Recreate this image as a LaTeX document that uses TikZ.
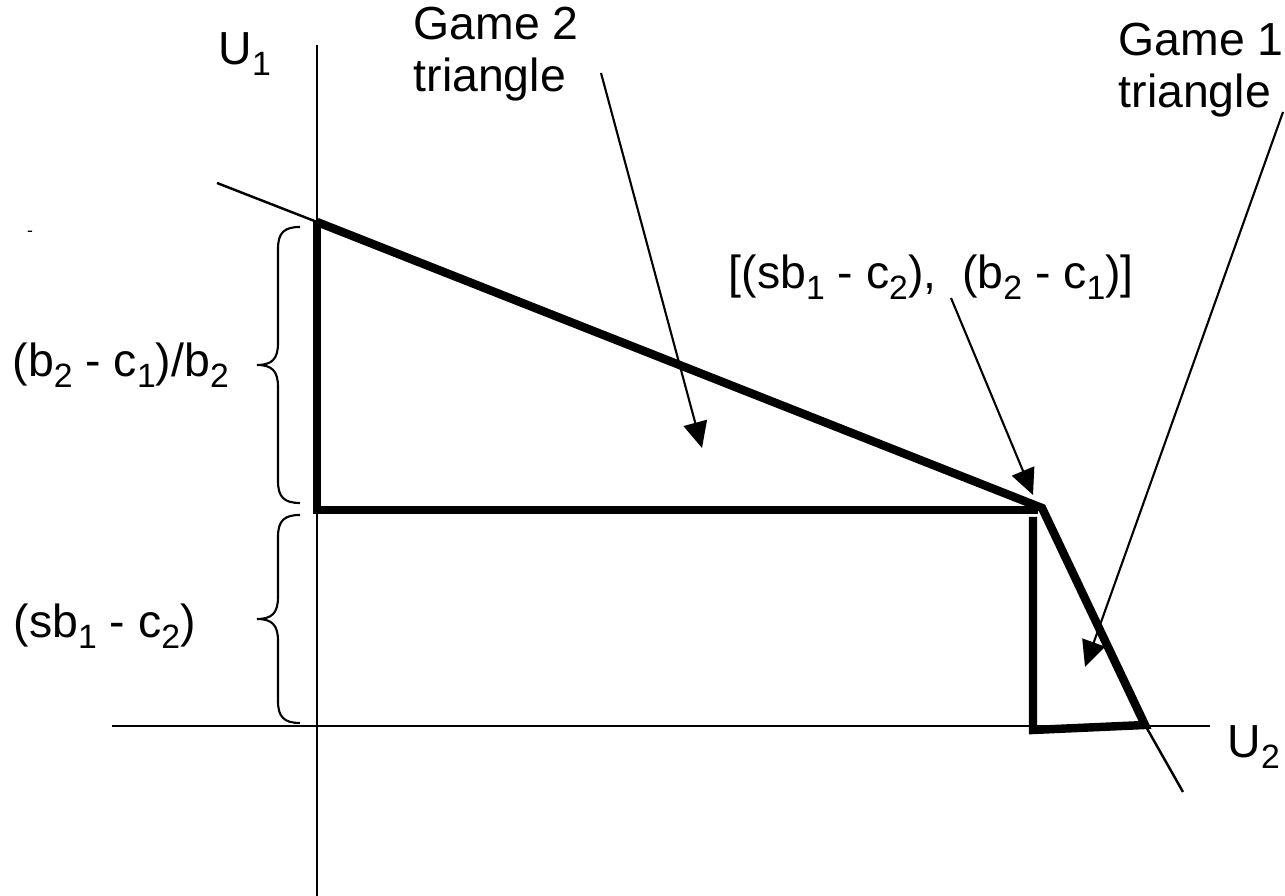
\documentclass[tikz,border=0pt]{standalone}
\usepackage{fontspec}
\setmainfont{Liberation Sans}
\usetikzlibrary{arrows.meta}

\tikzset{
  axisline/.style={line width=0.7pt},
  region/.style={line width=2.4pt,line join=miter},
  pointer/.style={->,line width=0.6pt},
  bracestroke/.style={line width=0.6pt},
  lbl/.style={inner sep=0pt,font=\fontsize{13.2}{15}\selectfont},
}
% subindice al estilo de la figura
\newcommand{\sbx}[1]{\raisebox{-0.22em}{\fontsize{9.6}{10}\selectfont #1}}
% left brace beside the U1 axis: #1 top y, #2 bottom y
\newcommand{\sidebrace}[2]{%
  \draw[bracestroke] (3.00,{#1}) .. controls (2.84,{#1}) and (2.78,{#1-0.06}) .. (2.78,{#1-0.22})
    -- (2.78,{(#1+#2)/2+0.22}) .. controls (2.78,{(#1+#2)/2+0.06}) and (2.72,{(#1+#2)/2}) .. (2.57,{(#1+#2)/2})
    .. controls (2.72,{(#1+#2)/2}) and (2.78,{(#1+#2)/2-0.06}) .. (2.78,{(#1+#2)/2-0.22})
    -- (2.78,{#2+0.22}) .. controls (2.78,{#2+0.06}) and (2.84,{#2}) .. (3.00,{#2});}

\begin{document}
\begin{tikzpicture}[>={Triangle[length=2.6mm,width=2.4mm]}]
  \useasboundingbox (0,0) rectangle (12.85,8.96);
  % ============ ejes ============
  \coordinate (ytop) at (3.17,8.51); \coordinate (ybot) at (3.17,0.00);
  \coordinate (xleft) at (1.12,1.70); \coordinate (xright) at (12.10,1.70);
  \draw[axisline] (ytop)--(ybot);
  \draw[axisline] (xleft)--(xright);
  \node[lbl,anchor=base west] (u1) at (2.18,8.31) {U\sbx{1}};
  \node[lbl,anchor=base west] (u2) at (12.27,1.38) {U\sbx{2}};
  % ============ frontera (trazo grueso) ============
  \coordinate (apex) at (3.17,6.74); \coordinate (mid) at (3.17,3.86);
  \coordinate (midend) at (10.38,3.86); \coordinate (kink) at (10.42,3.88);
  \coordinate (foot) at (11.45,1.71); \coordinate (base) at (10.33,1.66);
  \coordinate (baseup) at (10.33,3.79);
  \draw[region] (apex)--(mid)--(midend);
  \draw[region] (apex)--(kink)--(foot)--(base)--(baseup);
  % prolongaciones finas
  \coordinate (lead) at (2.17,7.13); \coordinate (tail) at (11.83,1.04);
  \draw[axisline] (lead)--(apex);
  \draw[axisline] (foot)--(tail);
  % ============ llaves y cotas ============
  \sidebrace{6.69}{3.93}
  \sidebrace{3.81}{1.73}
  \node[lbl,anchor=base west] (upper) at (0.12,5.19) {(b\sbx{2} - c\sbx{1})/b\sbx{2}};
  \node[lbl,anchor=base west] (lower) at (0.13,2.58) {(sb\sbx{1} - c\sbx{2})};
  \node[inner sep=0pt,font=\fontsize{5}{6}\selectfont] (dash) at (0.30,6.62) {-};
  % ============ etiquetas con flecha ============
  \node[lbl,anchor=north west,align=left] (game2) at (4.13,8.90) {Game 2\\triangle};
  \node[lbl,anchor=north west,align=left] (game1) at (11.18,8.74) {Game 1\\triangle};
  \node[lbl,anchor=base west] (corner) at (7.28,6.07) {[(sb\sbx{1} - c\sbx{2}),\ \ (b\sbx{2} - c\sbx{1})]};
  \coordinate (g2from) at (6.01,8.23); \coordinate (g2to) at (7.02,4.48);
  \coordinate (g1from) at (12.83,7.84); \coordinate (g1to) at (10.85,2.29);
  \coordinate (cfrom) at (9.51,5.98); \coordinate (cto) at (10.33,4.01);
  \draw[pointer] (g2from)--(g2to);
  \draw[pointer] (g1from)--(g1to);
  \draw[pointer] (cfrom)--(cto);
\end{tikzpicture}
\end{document}
